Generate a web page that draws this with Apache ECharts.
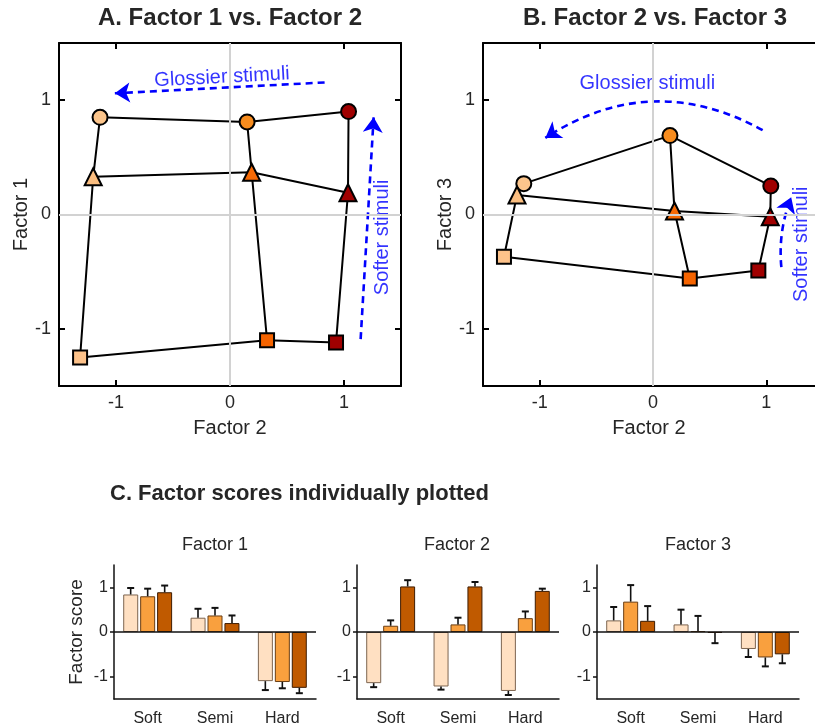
<!DOCTYPE html>
<html>
<head>
<meta charset="utf-8">
<script src="https://cdn.jsdelivr.net/npm/echarts@6/dist/echarts.min.js"></script>
<style>
  html, body { margin: 0; padding: 0; background: #fff; }
  #chart { width: 815px; height: 727px; }
</style>
</head>
<body>
<div id="chart"></div>
<script>
// softness rows (circle, triangle, square) x gloss columns (light, mid, dark)
var softness = ["Soft", "Semi", "Hard"];
var factor1 = [[0.85, 0.81, 0.90], [0.33, 0.37, 0.19], [-1.25, -1.10, -1.12]];
var factor2 = [[-1.14, 0.15, 1.04], [-1.20, 0.19, 1.035], [-1.315, 0.325, 0.93]];
var factor3 = [[0.27, 0.69, 0.25], [0.17, 0.03, -0.02], [-0.37, -0.56, -0.49]];
var ticks = [-1, 0, 1];

// bar means / errors, one row per gloss level, values over Soft, Semi, Hard
var barF1 = [[0.84, 0.32, -1.10], [0.80, 0.37, -1.12], [0.89, 0.20, -1.25]];
var errF1 = [[0.145, 0.20, 0.20], [0.17, 0.17, 0.14], [0.15, 0.17, 0.12]];
var barF2 = [[-1.145, -1.22, -1.32], [0.14, 0.17, 0.31], [1.02, 1.02, 0.92]];
var errF2 = [[0.09, 0.07, 0.09], [0.12, 0.15, 0.15], [0.14, 0.10, 0.05]];
var barF3 = [[0.26, 0.17, -0.38], [0.68, 0.02, -0.57], [0.25, -0.02, -0.50]];
var errF3 = [[0.30, 0.33, 0.18], [0.37, 0.34, 0.20], [0.33, 0.23, 0.20]];

var txt = "#262626";
var font = "Liberation Sans, Arial, sans-serif";
var markerColors = [
	["#FCC58C", "#F78C1E", "#A00000"],
	["#FBBE80", "#F76A05", "#A00000"],
	["#FDC28A", "#F66400", "#A00000"]
];
var shapes = ["circle", "triangle", "rect"];
var shapeSize = [15, 17, 14];
var barFill = ["#FFE0C2", "#F9A03E", "#C05A00"];
var barEdge = ["#7d6550", "#6a3e14", "#3e1c00"];

var chart = echarts.init(document.getElementById("chart"));

// main axis with labels + mirrored axis with inside ticks only (box style)
function boxAxes(g, name, isX, max, showMirror) {
	var base = {
		type: "value", gridIndex: g, min: -1.5, max: max,
		axisLine: { show: true, onZero: false, lineStyle: { color: "#000", width: 2 } },
		splitLine: { show: false },
		axisTick: { show: true, inside: true, length: 6, customValues: ticks, lineStyle: { color: "#000", width: 2 } },
		axisLabel: { show: false, customValues: ticks }
	};
	var main = echarts.util.merge({
		position: isX ? "bottom" : "left",
		axisLabel: { show: true, fontSize: 18, color: txt, margin: 8 },
		name: name, nameLocation: "middle", nameGap: isX ? 32 : 28,
		nameTextStyle: { fontSize: 20, color: txt }
	}, base, false);
	var mirror = echarts.util.merge({ position: isX ? "top" : "right", show: showMirror }, base, false);
	return [main, mirror];
}

var grids = [
	{ left: 59, top: 43, width: 342, height: 343 },
	{ left: 483, top: 43, width: 332, height: 343 },
	{ left: 114, top: 565, width: 202, height: 138 },
	{ left: 357, top: 565, width: 202, height: 138 },
	{ left: 597, top: 565, width: 202, height: 138 }
];

// panel B is cut by the right edge of the figure
var xAxes = [].concat(boxAxes(0, "Factor 2", true, 1.5, true), boxAxes(1, "Factor 2", true, 1.43, true));
var yAxes = [].concat(boxAxes(0, "Factor 1", false, 1.5, true), boxAxes(1, "Factor 3", false, 1.5, false));

// bar panels axes
for (var p = 0; p < 3; p++) {
	xAxes.push({
		type: "category", gridIndex: 2 + p, data: softness,
		axisLine: { onZero: false, lineStyle: { color: "#111", width: 1.5 } },
		axisTick: { alignWithLabel: true, length: 4, lineStyle: { color: "#111", width: 1.5 } },
		axisLabel: { fontSize: 16, color: txt, margin: 12 }
	});
	yAxes.push({
		type: "value", gridIndex: 2 + p, min: -1.5, max: 1.5,
		axisLine: { show: true, lineStyle: { color: "#111", width: 1.5 } },
		splitLine: { show: false },
		axisTick: { show: true, length: 4, customValues: ticks, lineStyle: { color: "#111", width: 1.5 } },
		axisLabel: { customValues: ticks, fontSize: 16, color: txt, margin: 6 },
		name: p === 0 ? "Factor score" : "", nameLocation: "middle", nameGap: 28,
		nameTextStyle: { fontSize: 19, color: txt }
	});
}

var series = [];

// scatter panels: A uses (factor2, factor1), B uses (factor2, factor3)
function scatterPanel(panel, yVals) {
	var xi = panel * 2, yi = panel * 2;
	series.push({
		type: "line", xAxisIndex: xi, yAxisIndex: yi, data: [], z: 1, silent: true,
		markLine: {
			silent: true, symbol: "none", label: { show: false },
			lineStyle: { color: "#d2d2d2", width: 2, type: "solid" },
			data: [{ xAxis: 0 }, { yAxis: 0 }]
		}
	});
	// connecting lines: rows (same softness) and columns (same gloss)
	for (var s = 0; s < 3; s++) {
		series.push({
			type: "line", xAxisIndex: xi, yAxisIndex: yi, symbol: "none", z: 2, silent: true,
			lineStyle: { color: "#000", width: 2 },
			data: [0, 1, 2].map(function(g) { return [factor2[s][g], yVals[s][g]]; })
		});
	}
	for (var g = 0; g < 3; g++) {
		series.push({
			type: "line", xAxisIndex: xi, yAxisIndex: yi, symbol: "none", z: 2, silent: true,
			lineStyle: { color: "#000", width: 2 },
			data: [0, 1, 2].map(function(s) { return [factor2[s][g], yVals[s][g]]; })
		});
	}
	for (var s2 = 0; s2 < 3; s2++) {
		series.push({
			type: "scatter", xAxisIndex: xi, yAxisIndex: yi, z: 3,
			symbol: shapes[s2], symbolSize: shapeSize[s2],
			data: [0, 1, 2].map(function(g) {
				return {
					value: [factor2[s2][g], yVals[s2][g]],
					itemStyle: { color: markerColors[s2][g], borderColor: "#000", borderWidth: 2, opacity: 1 }
				};
			})
		});
	}
}
scatterPanel(0, factor1);
scatterPanel(1, factor3);

var annoLabel = { show: true, position: "inside", formatter: "{b}", color: "#0000ff", fontSize: 20, fontFamily: font };

function arrow(axisIdx, from, to, curve) {
	return {
		type: "lines", coordinateSystem: "cartesian2d", xAxisIndex: axisIdx, yAxisIndex: axisIdx,
		z: 4, silent: true, symbol: ["none", "arrow"], symbolSize: 15,
		lineStyle: { color: "#0000ff", width: 2.6, type: [7, 5], curveness: curve, opacity: 1 },
		data: [{ coords: [from, to] }]
	};
}

series.push({
	type: "scatter", xAxisIndex: 0, yAxisIndex: 0, symbolSize: 0, z: 4, silent: true,
	label: annoLabel,
	data: [
		{ name: "Glossier stimuli", value: [-0.07, 1.2], label: { rotate: 3 } },
		{ name: "Softer stimuli", value: [1.34, -0.2], label: { rotate: 90 } }
	]
});
series.push(arrow(0, [0.83, 1.155], [-1.01, 1.06], 0));
series.push(arrow(0, [1.146, -1.09], [1.26, 0.85], 0));

series.push({
	type: "scatter", xAxisIndex: 2, yAxisIndex: 2, symbolSize: 0, z: 4, silent: true,
	label: annoLabel,
	data: [
		{ name: "Glossier stimuli", value: [-0.05, 1.15] },
		{ name: "Softer stimuli", value: [1.315, -0.26], label: { rotate: 90 } }
	]
});
series.push(arrow(2, [0.968, 0.737], [-0.95, 0.67], -0.3));
series.push(arrow(2, [1.133, -0.46], [1.22, 0.15], 0.12));

// bar panels
function errRender(params, api) {
	var cat = api.value(0), v = api.value(1), e = api.value(2), lvl = api.value(3);
	var base = api.coord([cat, v]);
	var tip = api.coord([cat, v >= 0 ? v + e : v - e]);
	var x = base[0] + (lvl - 1) * 17;
	return {
		type: "group",
		children: [
			{ type: "line", shape: { x1: x, y1: base[1], x2: x, y2: tip[1] }, style: { stroke: "#111", lineWidth: 1.6 } },
			{ type: "line", shape: { x1: x - 3.5, y1: tip[1], x2: x + 3.5, y2: tip[1] }, style: { stroke: "#111", lineWidth: 2 } }
		]
	};
}

[[barF1, errF1], [barF2, errF2], [barF3, errF3]].forEach(function(pair, p) {
	var means = pair[0], errs = pair[1];
	var errData = [];
	for (var lvl = 0; lvl < 3; lvl++) {
		series.push({
			type: "bar", xAxisIndex: 4 + p, yAxisIndex: 4 + p, barWidth: 15, barGap: "13%", z: 2,
			itemStyle: { color: barFill[lvl], borderColor: barEdge[lvl], borderWidth: 1 },
			data: means[lvl],
			markLine: lvl === 0 ? {
				silent: true, symbol: "none", label: { show: false },
				lineStyle: { color: "#111", width: 1.5, type: "solid" },
				data: [{ yAxis: 0 }]
			} : undefined
		});
		for (var c = 0; c < 3; c++) errData.push([c, means[lvl][c], errs[lvl][c], lvl]);
	}
	series.push({
		type: "custom", xAxisIndex: 4 + p, yAxisIndex: 4 + p, z: 3, silent: true,
		renderItem: errRender, encode: { x: 0, y: 1 }, data: errData
	});
});

function label(text, x, y, size, weight, align) {
	return {
		type: "text", x: x, y: y,
		style: { text: text, fill: txt, font: (weight || "normal") + " " + size + "px " + font, textAlign: align || "center", textVerticalAlign: "middle" }
	};
}

chart.setOption({
	animation: false,
	textStyle: { fontFamily: font },
	grid: grids,
	xAxis: xAxes,
	yAxis: yAxes,
	series: series,
	graphic: [
		label("A. Factor 1 vs. Factor 2", 230, 18, 24, "bold"),
		label("B. Factor 2 vs. Factor 3", 655, 18, 24, "bold"),
		label("C. Factor scores individually plotted", 110, 494, 22, "bold", "left"),
		label("Factor 1", 215, 545, 18),
		label("Factor 2", 457, 545, 18),
		label("Factor 3", 698, 545, 18)
	]
});
</script>
</body>
</html>
